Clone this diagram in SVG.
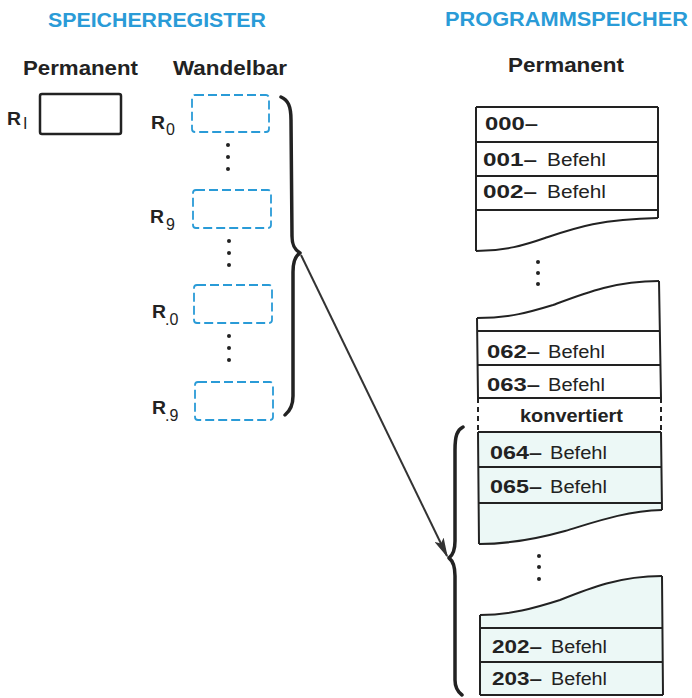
<svg xmlns="http://www.w3.org/2000/svg" width="692" height="698" viewBox="0 0 692 698">
<style>
.t{font-family:"Liberation Sans",Arial,sans-serif;fill:#222}
.title{font-family:"Liberation Sans",Arial,sans-serif;font-weight:bold;font-size:21px;fill:#2a9bd7}
.h{font-weight:bold;font-size:21px}
.r{font-weight:bold;font-size:19px}
.sub{font-size:16px}
.num{font-weight:bold;font-size:19px}
.bf{font-size:18px}
.dash{fill:none;stroke:#2a9bd7;stroke-width:1.8;stroke-dasharray:9 4}
.ln{fill:none;stroke:#222;stroke-width:2}
.brace{fill:none;stroke:#222;stroke-width:3.5;stroke-linecap:round;stroke-linejoin:round}
.dot{fill:#222}
</style>
<defs>
<marker id="ah" markerWidth="20" markerHeight="10" refX="18" refY="5" orient="auto" markerUnits="userSpaceOnUse">
<path d="M0,0 L20,5 L0,10 L4,5 Z" fill="#333"/>
</marker>
</defs>
<rect width="692" height="698" fill="#fff"/>

<g id="titles">
<text class="title" x="48" y="27" textLength="218" lengthAdjust="spacingAndGlyphs">SPEICHERREGISTER</text>
<text class="title" x="445" y="26" textLength="243" lengthAdjust="spacingAndGlyphs">PROGRAMMSPEICHER</text>
<text class="t h" x="23" y="75" textLength="115" lengthAdjust="spacingAndGlyphs">Permanent</text>
<text class="t h" x="173" y="75" textLength="114" lengthAdjust="spacingAndGlyphs">Wandelbar</text>
<text class="t h" x="508" y="72" textLength="116" lengthAdjust="spacingAndGlyphs">Permanent</text>
</g>

<g id="reg-RI">
<rect x="40" y="94" width="81" height="40" rx="2" fill="none" stroke="#222" stroke-width="2.5"/>
<text class="t r" x="7" y="125" textLength="14" lengthAdjust="spacingAndGlyphs">R</text>
<text class="t sub" x="23" y="129">I</text>
</g>
<g id="reg-R0">
<rect class="dash" x="192" y="95" width="77" height="37" rx="3"/>
<text class="t r" x="151" y="129" textLength="14" lengthAdjust="spacingAndGlyphs">R</text>
<text class="t sub" x="166" y="135">0</text>
</g>
<g id="reg-R9">
<rect class="dash" x="193" y="190" width="78" height="38" rx="3"/>
<text class="t r" x="150" y="223" textLength="14" lengthAdjust="spacingAndGlyphs">R</text>
<text class="t sub" x="166" y="230">9</text>
</g>
<g id="reg-R.0">
<rect class="dash" x="194" y="285" width="78" height="38" rx="3"/>
<text class="t r" x="152" y="318" textLength="14" lengthAdjust="spacingAndGlyphs">R</text>
<text class="t sub" x="165" y="325">.0</text>
</g>
<g id="reg-R.9">
<rect class="dash" x="195" y="382" width="78" height="38" rx="3"/>
<text class="t r" x="152" y="414" textLength="14" lengthAdjust="spacingAndGlyphs">R</text>
<text class="t sub" x="165" y="421">.9</text>
</g>
<g id="reg-dots">
<circle class="dot" cx="228" cy="145" r="2"/><circle class="dot" cx="228" cy="157" r="2"/><circle class="dot" cx="228" cy="169" r="2"/>
<circle class="dot" cx="229" cy="241" r="2"/><circle class="dot" cx="229" cy="253" r="2"/><circle class="dot" cx="229" cy="265" r="2"/>
<circle class="dot" cx="229" cy="336" r="2"/><circle class="dot" cx="229" cy="348" r="2"/><circle class="dot" cx="229" cy="360" r="2"/>
</g>

<g id="prog-seg1">
<path class="ln" d="M476,107 L658,107 M476,142 L658,142 M476,176 L658,176 M476,210 L658,210 M476,107 L476,251 M658,107 L658,218"/>
<path class="ln" d="M476,251 C505,251 525,245 545,238 C575,228 600,219 658,218"/>
<text class="t num" x="485" y="130" textLength="53" lengthAdjust="spacingAndGlyphs">000–</text>
<text class="t num" x="483" y="166" textLength="54" lengthAdjust="spacingAndGlyphs">001–</text>
<text class="t bf" x="547" y="166" textLength="59" lengthAdjust="spacingAndGlyphs">Befehl</text>
<text class="t num" x="483" y="198" textLength="54" lengthAdjust="spacingAndGlyphs">002–</text>
<text class="t bf" x="547" y="198" textLength="59" lengthAdjust="spacingAndGlyphs">Befehl</text>
</g>
<g id="prog-dots1">
<circle class="dot" cx="538" cy="262" r="2"/><circle class="dot" cx="538" cy="273" r="2"/><circle class="dot" cx="538" cy="284" r="2"/>
</g>

<g id="prog-seg2">
<path d="M478,432 L661,432 L662,510 C625,511 595,522 565,531 C540,538 510,544 479,544 Z" fill="#ecf8f6"/>
<path class="ln" d="M477,318 C510,318 530,312 553,305 C585,293 615,281 659,281"/>
<path class="ln" d="M479,544 C510,544 540,538 565,531 C595,522 625,511 662,510"/>
<path class="ln" d="M477,331 L660,331 M477,365 L660,365 M478,398 L661,398 M478,432 L661,432 M478,467 L661,467 M479,503 L662,503"/>
<path class="ln" d="M477,318 L478,398 M659,281 L661,398 M478,432 L479,544 M661,432 L662,510"/>
<path class="ln" stroke-dasharray="5 4" d="M478,398 L478,432 M661,398 L661,432"/>
<text class="t num" x="487" y="358" textLength="53" lengthAdjust="spacingAndGlyphs">062–</text>
<text class="t bf" x="548" y="358" textLength="57" lengthAdjust="spacingAndGlyphs">Befehl</text>
<text class="t num" x="487" y="391" textLength="53" lengthAdjust="spacingAndGlyphs">063–</text>
<text class="t bf" x="548" y="391" textLength="57" lengthAdjust="spacingAndGlyphs">Befehl</text>
<text class="t num" x="520" y="422" textLength="103" lengthAdjust="spacingAndGlyphs">konvertiert</text>
<text class="t num" x="490" y="459" textLength="52" lengthAdjust="spacingAndGlyphs">064–</text>
<text class="t bf" x="550" y="459" textLength="57" lengthAdjust="spacingAndGlyphs">Befehl</text>
<text class="t num" x="490" y="493" textLength="52" lengthAdjust="spacingAndGlyphs">065–</text>
<text class="t bf" x="550" y="493" textLength="57" lengthAdjust="spacingAndGlyphs">Befehl</text>
</g>
<g id="prog-dots2">
<circle class="dot" cx="539" cy="556" r="2"/><circle class="dot" cx="539" cy="567" r="2"/><circle class="dot" cx="539" cy="579" r="2"/>
</g>

<g id="prog-seg3">
<path d="M480,615 C510,615 535,608 560,600 C590,588 620,576 662,576 L663,695 L480,695 Z" fill="#ecf8f6"/>
<path class="ln" d="M480,615 C510,615 535,608 560,600 C590,588 620,576 662,576"/>
<path class="ln" d="M480,628 L663,628 M480,662 L663,662 M480,695 L663,695 M480,615 L480,695 M662,576 L663,695"/>
<text class="t num" x="492" y="653" textLength="50" lengthAdjust="spacingAndGlyphs">202–</text>
<text class="t bf" x="551" y="653" textLength="56" lengthAdjust="spacingAndGlyphs">Befehl</text>
<text class="t num" x="492" y="685" textLength="50" lengthAdjust="spacingAndGlyphs">203–</text>
<text class="t bf" x="551" y="685" textLength="56" lengthAdjust="spacingAndGlyphs">Befehl</text>
</g>

<g id="connectors">
<path class="brace" d="M281,97 C288,100 291,106 291,120 L292,236 C292,246 295,250 300,253 C295,256 293,262 293,272 L293,396 C293,406 290,411 285,415"/>
<path class="brace" d="M463,427 C457,430 455,436 455,450 L455,541 C455,551 453,555 449,558 C453,561 455,566 455,576 L455,680 C455,688 458,692 462,695"/>
<line x1="301" y1="255" x2="447" y2="556" stroke="#333" stroke-width="2" marker-end="url(#ah)"/>
</g>
</svg>
